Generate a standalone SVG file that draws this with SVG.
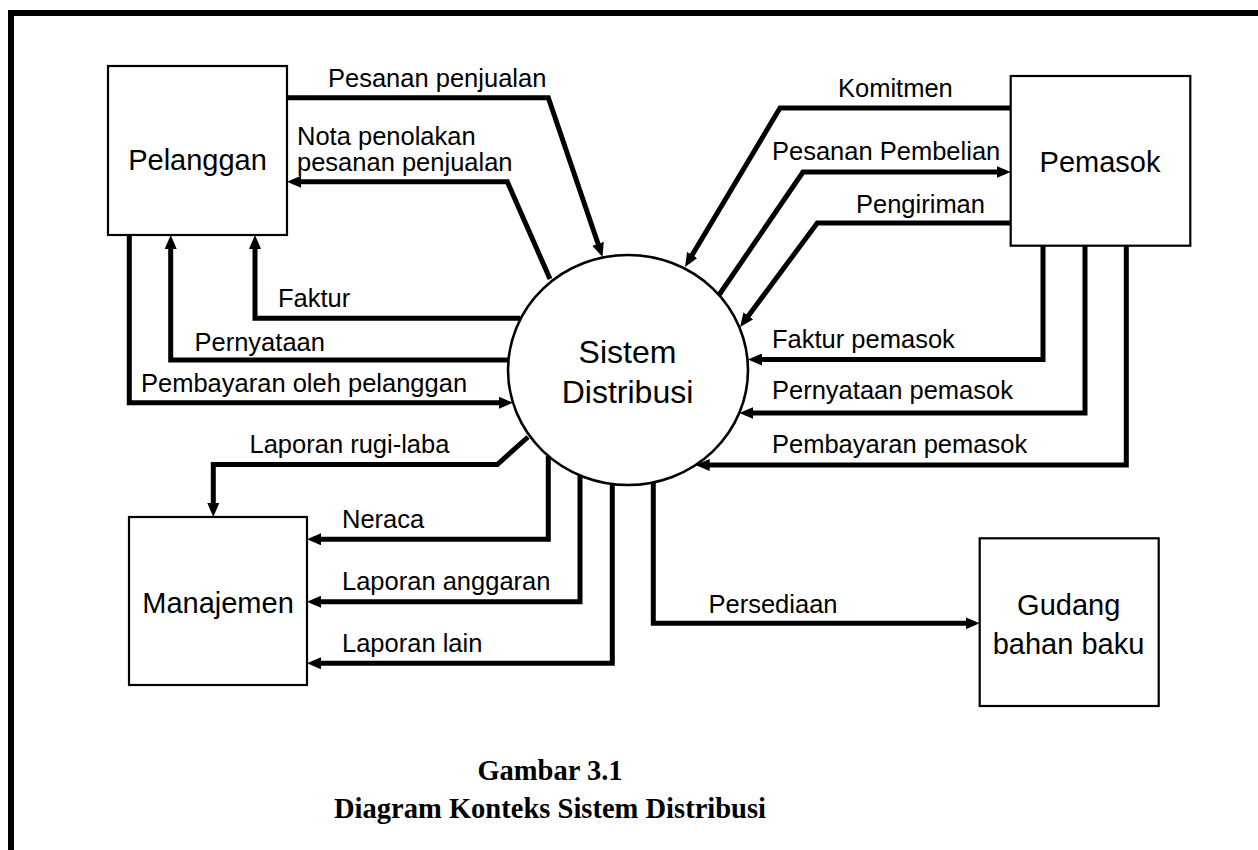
<svg xmlns="http://www.w3.org/2000/svg" width="1258" height="850" viewBox="0 0 1258 850">
<defs>
<marker id="arr" viewBox="0 0 14 12" refX="8" refY="6" markerWidth="14" markerHeight="12" markerUnits="userSpaceOnUse" orient="auto">
<path d="M0,0 L14,6 L0,12 z" fill="#000"/>
</marker>
<style>
.box{fill:#fff;stroke:#000;stroke-width:2.2}
.ent{font-family:"Liberation Sans",Arial,sans-serif;font-size:29px;fill:#000;text-anchor:middle}
.lbl{font-family:"Liberation Sans",Arial,sans-serif;font-size:25.5px;fill:#000}
.flow{fill:none;stroke:#000;stroke-width:5;stroke-linejoin:miter}
.arrow{marker-end:url(#arr)}
.cap{font-family:"Liberation Serif","Times New Roman",serif;font-weight:bold;font-size:28.5px;fill:#000;text-anchor:middle}
</style>
</defs>
<rect x="11" y="13" width="1300" height="900" fill="none" stroke="#000" stroke-width="6"/>

<g id="connectors">
<path class="flow arrow" d="M287,97.7 L548.3,97.7 L600.6,251.3"/>
<path class="flow arrow" d="M550,279 L507.3,181.7 L293,181.7"/>
<path class="flow arrow" d="M1010.7,108 L780,108 L688.1,261.8"/>
<path class="flow arrow" d="M719,295 L803,172 L1004.7,172"/>
<path class="flow arrow" d="M1010.7,223 L817.3,223 L743.6,322.2"/>
<path class="flow arrow" d="M520,318.3 L255,318.3 L255,241"/>
<path class="flow arrow" d="M508.5,360 L170.7,360 L170.7,241"/>
<path class="flow arrow" d="M129.3,235 L129.3,402.7 L507,402.7"/>
<path class="flow arrow" d="M528,437 L497.3,464.5 L213.3,464.5 L213.3,511"/>
<path class="flow arrow" d="M548.3,456 L548.3,539.3 L313,539.3"/>
<path class="flow arrow" d="M580,475 L580,601.7 L313,601.7"/>
<path class="flow arrow" d="M612.3,484 L612.3,663.3 L313,663.3"/>
<path class="flow arrow" d="M653.3,482 L653.3,623.3 L973.7,623.3"/>
<path class="flow arrow" d="M1043,245.7 L1043,359.5 L754,359.5"/>
<path class="flow arrow" d="M1085,245.7 L1085,413 L745.3,413"/>
<path class="flow arrow" d="M1126.3,245.7 L1126.3,465 L701.7,465"/>
</g>

<g id="labels">
<text class="lbl" x="328" y="87.3">Pesanan penjualan</text>
<text class="lbl" x="297" y="145">Nota penolakan</text>
<text class="lbl" x="297" y="171">pesanan penjualan</text>
<text class="lbl" x="838" y="97.3">Komitmen</text>
<text class="lbl" x="772" y="160">Pesanan Pembelian</text>
<text class="lbl" x="856" y="213.3">Pengiriman</text>
<text class="lbl" x="278" y="306.7">Faktur</text>
<text class="lbl" x="194.5" y="350.7">Pernyataan</text>
<text class="lbl" x="141" y="391.7">Pembayaran oleh pelanggan</text>
<text class="lbl" x="249.5" y="453.3">Laporan rugi-laba</text>
<text class="lbl" x="342" y="528.3">Neraca</text>
<text class="lbl" x="342" y="590">Laporan anggaran</text>
<text class="lbl" x="342" y="651.7">Laporan lain</text>
<text class="lbl" x="772" y="347.5">Faktur pemasok</text>
<text class="lbl" x="772" y="399.3">Pernyataan pemasok</text>
<text class="lbl" x="772" y="452.7">Pembayaran pemasok</text>
<text class="lbl" x="708.5" y="612.7">Persediaan</text>
</g>

<g id="pelanggan">
<rect class="box" x="108" y="66" width="179" height="169"/>
<text class="ent" x="197.5" y="170">Pelanggan</text>
</g>
<g id="pemasok">
<rect class="box" x="1010.7" y="76" width="179.6" height="169.7"/>
<text class="ent" x="1100" y="171.7">Pemasok</text>
</g>
<g id="sistem-distribusi">
<ellipse cx="628" cy="370" rx="120" ry="115" fill="#fff" stroke="#000" stroke-width="2.6"/>
<text class="ent" x="627.5" y="362.7" style="font-size:32px">Sistem</text>
<text class="ent" x="627.5" y="402.7" style="font-size:32px">Distribusi</text>
</g>
<g id="manajemen">
<rect class="box" x="129" y="517" width="178" height="168"/>
<text class="ent" x="218" y="613.3">Manajemen</text>
</g>
<g id="gudang">
<rect class="box" x="979.7" y="538.3" width="179" height="167.7"/>
<text class="ent" x="1068.7" y="615">Gudang</text>
<text class="ent" x="1068.5" y="654">bahan baku</text>
</g>

<g id="caption">
<text class="cap" x="550" y="779.5">Gambar 3.1</text>
<text class="cap" x="550" y="817.5" textLength="432" lengthAdjust="spacingAndGlyphs">Diagram Konteks Sistem Distribusi</text>
</g>
</svg>
